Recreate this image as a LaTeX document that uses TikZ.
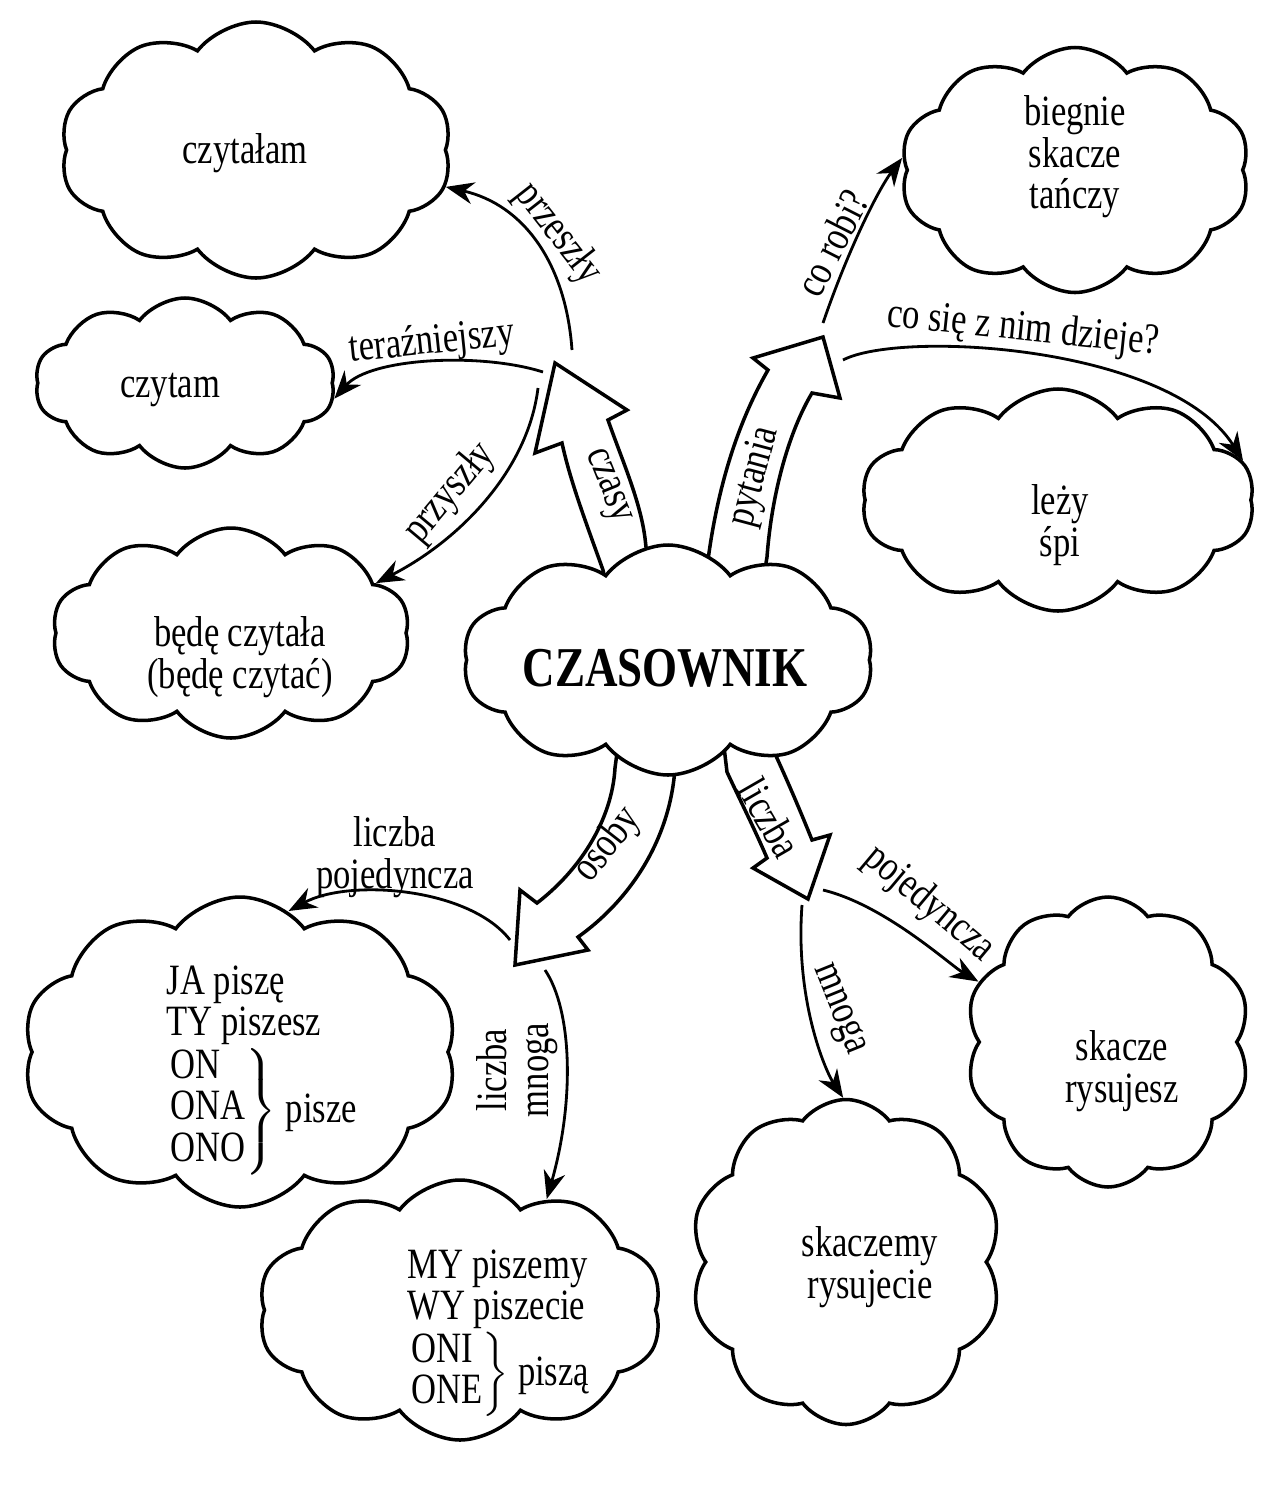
\documentclass[tikz,border=0pt]{standalone}
\usepackage{fontspec}
\setmainfont{Liberation Serif}[FakeStretch=0.8]
\usetikzlibrary{shapes.symbols,arrows.meta}

\tikzset{
  cloudy/.style={cloud, cloud puffs=10, cloud puff arc=105, cloud ignores aspect, draw, fill=white, line width=1pt, inner sep=0pt},
  txt/.style={font=\fontsize{12.3}{11.8}\selectfont, align=center, inner sep=0pt},
  lbl/.style={font=\fontsize{12.3}{11.8}\selectfont, align=center, inner sep=1pt},
  arr/.style={-{Stealth[length=2.8mm,width=2.2mm]}, line width=0.8pt},
  blockarr/.style={draw, fill=white, line width=1pt, line join=miter},
}

\begin{document}
\begin{tikzpicture}[x=0.1mm, y=-0.1mm]
\useasboundingbox (0,0) rectangle (1280,1502);

% big arrows (base hidden under the middle cloud)
\draw[blockarr] (612,610) -- (603,570) .. controls (585,520) and (570,480) .. (562,443) -- (535,453) -- (555,363) -- (627,410) -- (608,420) .. controls (622,460) and (640,500) .. (645,538) -- (652,600) -- cycle;
\draw[blockarr] (705,600) -- (708,560) .. controls (720,470) and (745,410) .. (768,370) -- (753,358) -- (823,337) -- (840,398) -- (812,393) .. controls (790,430) and (772,490) .. (767,557) -- (760,600) -- cycle;
\draw[blockarr] (672,730) -- (675,768) .. controls (670,840) and (630,900) .. (578,937) -- (588,950) -- (515,965) -- (520,890) -- (537,903) .. controls (580,870) and (612,820) .. (615,768) -- (620,730) -- cycle;
\draw[blockarr] (722,730) -- (727,772) .. controls (740,800) and (755,830) .. (767,858) -- (753,868) -- (808,899) -- (830,835) -- (812,840) .. controls (800,810) and (785,775) .. (770,743) -- (765,720) -- cycle;

\coordinate (p1) at (572,350);
\coordinate (p2) at (543,372);
\coordinate (p3) at (538,388);
\coordinate (p4) at (823,323);
\coordinate (p5) at (843,360);
\coordinate (p6) at (510,940);
\coordinate (p7) at (545,970);
\coordinate (p8) at (802,905);
\coordinate (p9) at (823,890);

% clouds
\foreach \n/\x/\y/\w/\h in {c1/256/150/39.2/25.6, c2/185/383/30/17, c3/231/633/35.8/21,
  c4/668/660/41/23, c5/1075/170/35/24.5, c6/1058/500/39.3/22.2, c7/240/1052/43.5/31,
  c8/460/1310/40.4/26, c9/846/1262/31.2/32.5, c10/1108/1042/28.5/29}{
\node[cloudy, minimum width=\w mm, minimum height=\h mm] (\n) at (\x,\y) {};
}

\node[txt] (t1) at (245,153) {czytałam};
\node[txt] (t2) at (170,390) {czytam};
\node[txt] (t3) at (240,657) {będę czytała\\(będę czytać)};
\node[txt, font=\fontsize{16}{16}\selectfont\bfseries] (t4) at (665,668) {CZASOWNIK};
\node[txt] (t5) at (1075,157) {biegnie\\skacze\\tańczy};
\node[txt] (t6) at (1060,525) {leży\\śpi};
\node[txt, anchor=west] (t7) at (166,1070) {\begin{tabular}{@{}l@{}}JA piszę\\TY piszesz\\$\left.\begin{tabular}{@{}l@{}}ON\\ONA\\ONO\end{tabular}\right\}$ pisze\end{tabular}};
\node[txt, anchor=west] (t8) at (407,1333) {\begin{tabular}{@{}l@{}}MY piszemy\\WY piszecie\\$\left.\begin{tabular}{@{}l@{}}ONI\\ONE\end{tabular}\right\}$ piszą\end{tabular}};
\node[txt] (t9) at (870,1267) {skaczemy\\rysujecie};
\node[txt] (t10) at (1122,1071) {skacze\\rysujesz};

% thin arrows
\draw[arr] (p1) .. controls (566,265) and (525,205) .. (c1.-11);
\draw[arr] (p2) .. controls (480,352) and (370,358) .. (c2.-6);
\draw[arr] (p3) .. controls (528,470) and (460,540) .. (c3.19);
\draw[arr] (p4) .. controls (848,250) and (878,190) .. (c5.176);
\draw[arr] (p5) .. controls (900,330) and (1170,345) .. (c6.12);
\draw[arr] (p6) .. controls (470,888) and (350,878) .. (c7.71);
\draw[arr] (p7) .. controls (572,1010) and (575,1100) .. (c8.52);
\draw[arr] (p8) .. controls (795,1000) and (825,1070) .. (c9.91);
\draw[arr] (p9) .. controls (885,905) and (950,965) .. (c10.155);

\node[lbl, rotate=-52] (lprzeszly) at (558,234) {przeszły};
\node[lbl, rotate=6] (lteraz) at (432,343) {teraźniejszy};
\node[lbl, rotate=50] (lprzyszly) at (450,493) {przyszły};
\node[lbl, rotate=63] (lcorobi) at (832,243) {co robi?};
\node[lbl, rotate=-6] (ldzieje) at (1023,330) {co się z nim dzieje?};
\node[lbl] (lpoj) at (395,857) {liczba\\pojedyncza};
\node[lbl, rotate=90] (lmnoga) at (517,1070) {liczba\\mnoga};
\node[lbl, rotate=-68] (rmnoga) at (838,1010) {mnoga};
\node[lbl, rotate=-40] (rpoj) at (929,904) {pojedyncza};
\node[lbl, rotate=-68] (lczasy) at (606,487) {czasy};
\node[lbl, rotate=75] (lpytania) at (755,477) {pytania};
\node[lbl, rotate=52] (losoby) at (608,845) {osoby};
\node[lbl, rotate=-60] (lliczba) at (770,818) {liczba};
\end{tikzpicture}
\end{document}
